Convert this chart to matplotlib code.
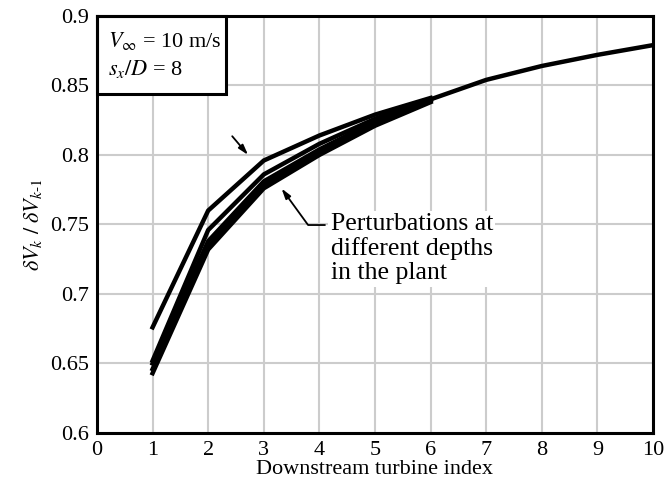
import matplotlib
matplotlib.use('Agg')
import matplotlib.pyplot as plt
from matplotlib.patches import Rectangle

plt.rcParams['font.family'] = ['Liberation Serif', 'DejaVu Serif']
plt.rcParams['mathtext.fontset'] = 'stix'

# Ratio of successive velocity perturbations, one curve per perturbation depth
turbine_idx = [1, 2, 3, 4, 5, 6]
ratio_a = [0.676, 0.760, 0.796, 0.814, 0.829, 0.841]
ratio_b = [0.652, 0.746, 0.786, 0.808, 0.826, 0.840]
ratio_c = [0.650, 0.738, 0.781, 0.804, 0.824, 0.840]
ratio_d = [0.646, 0.734, 0.778, 0.802, 0.822, 0.839]
ratio_e = [0.643, 0.732, 0.776, 0.800, 0.821, 0.838]

# Common tail further downstream
tail_idx = [6, 7, 8, 9, 10]
tail_ratio = [0.840, 0.854, 0.864, 0.872, 0.879]

xticks = list(range(0, 11))
yticks = [0.6, 0.65, 0.7, 0.75, 0.8, 0.85, 0.9]
ytick_labels = ['0.6', '0.65', '0.7', '0.75', '0.8', '0.85', '0.9']

fig = plt.figure(figsize=(6.67, 4.98), dpi=100)
ax = fig.add_axes([0.1454, 0.1305, 0.8336, 0.8375])

for r in [ratio_a, ratio_b, ratio_c, ratio_d, ratio_e]:
    ax.plot(turbine_idx, r, color='black', linewidth=3.2, zorder=3)
ax.plot(tail_idx, tail_ratio, color='black', linewidth=3.2, zorder=3)

ax.set_xlim(0, 10)
ax.set_ylim(0.6, 0.9)
ax.set_xticks(xticks)
ax.set_yticks(yticks)
ax.set_yticklabels(ytick_labels)
ax.tick_params(length=0, labelsize=16, pad=6)
ax.grid(True, color='#cccccc', linewidth=1.5)
ax.set_axisbelow(True)
for s in ax.spines.values():
    s.set_linewidth(2.2)
    s.set_zorder(6)

ax.set_xlabel('Downstream turbine index', fontsize=16, labelpad=0)
ax.set_ylabel(r'$\delta V_k\ /\ \delta V_{k\text{-}1}$', fontsize=16, labelpad=4)

# Operating conditions box in the upper-left corner
ax.add_patch(Rectangle((0, 0.813), 0.232, 0.187, transform=ax.transAxes,
                       facecolor='white', edgecolor='black', linewidth=2.2,
                       zorder=5, clip_on=False))
ax.text(0.02, 0.94, '$V_\\infty$ = 10 m/s', fontsize=16, transform=ax.transAxes,
        va='center', ha='left', zorder=6)
ax.text(0.02, 0.872, '$s_x/D$ = 8', fontsize=16, transform=ax.transAxes,
        va='center', ha='left', zorder=6)

# Callout text with arrow to the lower group of curves
ax.text(4.2, 0.7325, 'Perturbations at\ndifferent depths\nin the plant', fontsize=18.5,
        va='center', ha='left', linespacing=1.12, zorder=5,
        bbox=dict(boxstyle='square,pad=0.1', fc='white', ec='none'))
ax.annotate('', xy=(3.29, 0.7775), xytext=(4.15, 0.7496),
            arrowprops=dict(arrowstyle='-|>,head_length=0.6,head_width=0.18',
                            color='black', lw=1.3,
                            connectionstyle='angle,angleA=0,angleB=-54,rad=0'),
            zorder=6)
# Arrow pointing at the top curve
ax.annotate('', xy=(2.75, 0.7985), xytext=(2.4, 0.815),
            arrowprops=dict(arrowstyle='-|>,head_length=0.6,head_width=0.18',
                            color='black', lw=1.3), zorder=6)

fig.savefig('out.png', dpi=100)
